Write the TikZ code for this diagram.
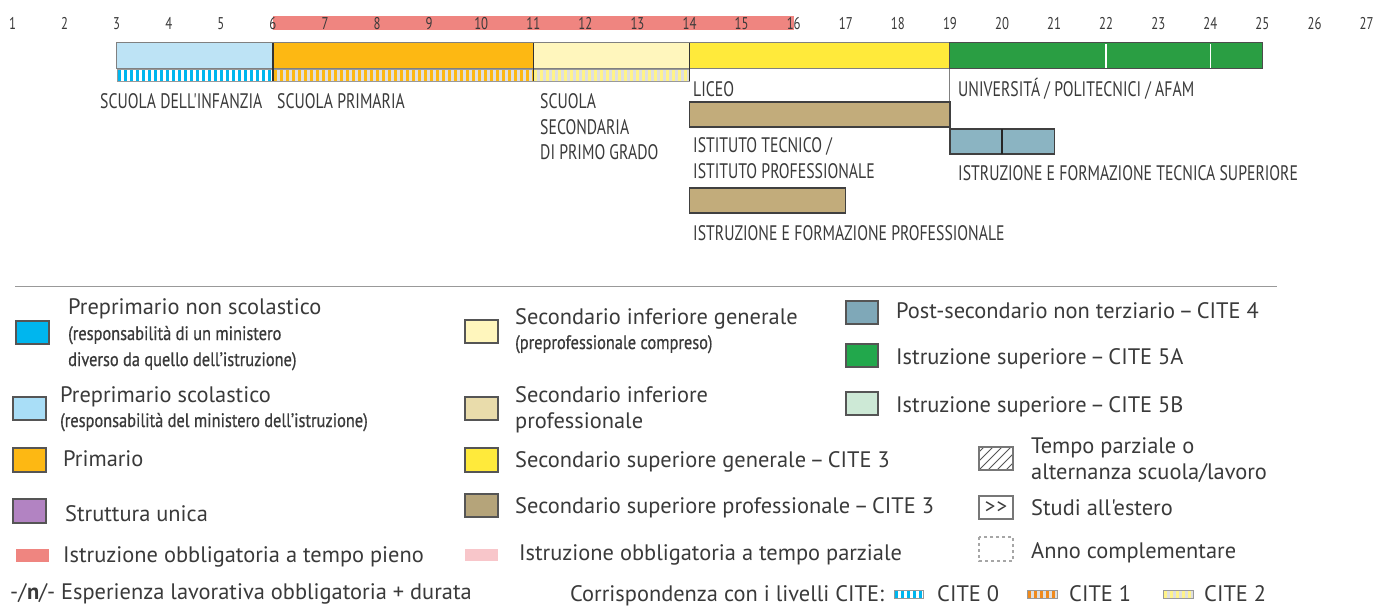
\documentclass[tikz,border=0pt]{standalone}
\usepackage{fontspec}
\setmainfont{PT Sans}
\newfontfamily\legf{PT Sans}
\newfontfamily\capf[FakeStretch=0.75]{PT Sans}
\newfontfamily\smf[FakeStretch=0.84,FakeBold=0.6]{PT Sans}
\definecolor{txt}{HTML}{3A3A3A}
\definecolor{cyanc}{HTML}{00B6EE}
\definecolor{lblue}{HTML}{BDE3F5}
\definecolor{lbluel}{HTML}{A9DEF7}
\definecolor{orng}{HTML}{FDB813}
\definecolor{pyel}{HTML}{FFF6BD}
\definecolor{yel}{HTML}{FFEA3B}
\definecolor{grn}{HTML}{2A9E43}
\definecolor{grnl}{HTML}{22A84C}
\definecolor{tanc}{HTML}{C2AC7B}
\definecolor{tanl}{HTML}{B5A47A}
\definecolor{tealc}{HTML}{8BB4C2}
\definecolor{teall}{HTML}{7FA8B8}
\definecolor{lgrn}{HTML}{CDE9D6}
\definecolor{purp}{HTML}{B283C2}
\definecolor{redc}{HTML}{EF8580}
\definecolor{pinkc}{HTML}{F8C6CA}
\definecolor{beige}{HTML}{E9DCAB}
\definecolor{swb}{HTML}{555555}
\definecolor{orst}{HTML}{F08A1C}
\newcommand\yr[1]{{12.5+(#1-1)*52.08}}
\newcommand\dsh{\hspace{3.5pt}–\hspace{3.5pt}}
\newcommand\citestrip[6]{%
  \begin{scope}
    \clip (#1,#3) rectangle (#2,#4);
    \fill[#6] (#1,#3) rectangle (#2,#4);
    \foreach \k in {0,...,45} \fill[#5] ({#1+1+\k*6},#3) rectangle ({#1+4+\k*6},#4);
  \end{scope}
  \draw[gray!80, line width=0.8pt] (#1,#3) rectangle (#2,#4);}
\tikzset{
  leg/.style={anchor=base west, inner sep=0pt, text=txt, font=\legf\fontsize{22.4}{26}\selectfont},
  legs/.style={anchor=base west, inner sep=0pt, text=txt, font=\smf\fontsize{19.5}{22}\selectfont},
  caplbl/.style={anchor=base west, inner sep=0pt, text=txt, font=\capf\fontsize{21}{24}\selectfont},
  numlbl/.style={anchor=base, inner sep=0pt, text=txt, font=\capf\fontsize{17}{20}\selectfont},
  swatch/.style={draw=swb, line width=1.3pt},
}
\begin{document}
\begin{tikzpicture}[x=1pt,y=-1pt]
\useasboundingbox[fill=white] (0,0) rectangle (1389,610);
% compulsory full-time bar
\fill[redc] ({\yr{6}},16) rectangle ({\yr{16}},30);
% age numbers
\foreach \n in {1,...,27} \node[numlbl] (age\n) at ({\yr{\n}},30) {\n};
% first row of bars
\fill[lblue] ({\yr{3}},43) rectangle ({\yr{6}},69);
\fill[orng] ({\yr{6}},43) rectangle ({\yr{11}},69);
\fill[pyel] ({\yr{11}},43) rectangle ({\yr{14}},69);
\fill[yel] ({\yr{14}},43) rectangle ({\yr{19}},69);
\draw[gray, line width=1pt] ({\yr{3}},43) rectangle ({\yr{19}},69);
\citestrip{117}{273}{69}{81}{cyanc}{white}
\citestrip{273}{533.3}{69}{81}{orng}{gray!25}
\citestrip{533.3}{689.5}{69}{81}{yel!60}{gray!25}
\draw[black!80, line width=1.2pt] ({\yr{6}},43) -- ({\yr{6}},81);
\draw[black!80, line width=1.2pt] ({\yr{11}},43) -- ({\yr{11}},81);
\draw[black!80, line width=1.2pt] ({\yr{14}},43) -- ({\yr{14}},81);
\fill[grn] ({\yr{19}},43) rectangle ({\yr{25}},69);
\draw[black!70, line width=1pt] ({\yr{19}},43) rectangle ({\yr{25}},69);
\draw[white, line width=1.5pt] ({\yr{22}},44) -- ({\yr{22}},68);
\draw[white, line width=1.5pt] ({\yr{24}},44) -- ({\yr{24}},68);
\draw[gray, line width=1pt] ({\yr{19}},69) -- ({\yr{19}},102);
% second rows
\fill[tanc] ({\yr{14}},102) rectangle ({\yr{19}},127);
\draw[black!75, line width=1.2pt] ({\yr{14}},102) rectangle ({\yr{19}},127);
\fill[tealc] ({\yr{19}},129) rectangle ({\yr{21}},154);
\draw[black!75, line width=1.2pt] ({\yr{19}},129) rectangle ({\yr{21}},154);
\draw[black!85, line width=1.2pt] ({\yr{20}},129) -- ({\yr{20}},154);
\fill[tanc] ({\yr{14}},188) rectangle ({\yr{17}},213);
\draw[black!75, line width=1.2pt] ({\yr{14}},188) rectangle ({\yr{17}},213);
% bar labels
\node[caplbl] (infanzia) at (100,108) {SCUOLA DELL'INFANZIA};
\node[caplbl] (primaria) at (277,108) {SCUOLA PRIMARIA};
\node[caplbl] (sec1a) at (540,108) {SCUOLA};
\node[caplbl] (sec1b) at (540,134) {SECONDARIA};
\node[caplbl] (sec1c) at (540,159) {DI PRIMO GRADO};
\node[caplbl] (liceo) at (693,96) {LICEO};
\node[caplbl] (univ) at (958,96) {UNIVERSITÁ / POLITECNICI / AFAM};
\node[caplbl] (ita) at (693,152) {ISTITUTO TECNICO /};
\node[caplbl] (itb) at (693,178) {ISTITUTO PROFESSIONALE};
\node[caplbl] (ifts) at (958,180) {ISTRUZIONE E FORMAZIONE TECNICA SUPERIORE};
\node[caplbl] (iefp) at (693,240) {ISTRUZIONE E FORMAZIONE PROFESSIONALE};
% separator
\draw[gray!80, line width=1pt] (15,286) -- (1277,286);
% legend column 1
\fill[cyanc,swatch] (16,321) rectangle (49,344);
\node[leg] (l1a) at (68,314) {Preprimario non scolastico};
\node[legs] (l1b) at (68,340) {(responsabilità di un ministero};
\node[legs] (l1c) at (68,366) {diverso da quello dell’istruzione)};
\fill[lbluel,swatch] (13,397) rectangle (46,420);
\node[leg] (l2a) at (60,402) {Preprimario scolastico};
\node[legs] (l2b) at (60,427) {(responsabilità del ministero dell’istruzione)};
\fill[orng,swatch] (13,448) rectangle (46,472);
\node[leg] (l3) at (63,466) {Primario};
\fill[purp,swatch] (13,499) rectangle (46,523);
\node[leg] (l4) at (65,521) {Struttura unica};
\fill[redc] (16,549) rectangle (49,562);
\node[leg] (l5) at (63,562) {Istruzione obbligatoria a tempo pieno};
\node[leg] (l6) at (10,599) {-/\textbf{n}/- Esperienza lavorativa obbligatoria + durata};
% legend column 2
\fill[pyel,swatch] (465,320) rectangle (498,343);
\node[leg] (m1a) at (515,324) {Secondario inferiore generale};
\node[legs] (m1b) at (515,349) {(preprofessionale compreso)};
\fill[beige,swatch] (465,397) rectangle (498,420);
\node[leg] (m2a) at (515,402) {Secondario inferiore};
\node[leg] (m2b) at (515,428) {professionale};
\fill[yel,swatch] (465,448) rectangle (498,472);
\node[leg] (m3) at (515,467) {Secondario superiore generale\dsh CITE 3};
\fill[tanl,swatch] (465,494) rectangle (498,517);
\node[leg] (m4) at (515,513) {Secondario superiore professionale\dsh CITE 3};
\fill[pinkc] (465,549) rectangle (498,561);
\node[leg] (m5) at (519,560) {Istruzione obbligatoria a tempo parziale};
\node[leg] (m6) at (570,601) {Corrispondenza con i livelli CITE:};
% legend column 3
\fill[teall,swatch] (846,301) rectangle (878,324);
\node[leg] (r1) at (896,318) {Post-secondario non terziario\dsh CITE 4};
\fill[grnl,swatch] (846,344) rectangle (878,367);
\node[leg] (r2) at (896,364) {Istruzione superiore\dsh CITE 5A};
\fill[lgrn,swatch] (846,392) rectangle (878,415);
\node[leg] (r3) at (896,412) {Istruzione superiore\dsh CITE 5B};
\begin{scope}
  \clip (979,447) rectangle (1013,470);
  \foreach \k in {-2,...,4} \draw[swb, line width=0.9pt] ({979+\k*9},470) -- ++(25,-25);
\end{scope}
\draw[swb!80, line width=1.1pt] (979,447) rectangle (1013,470);
\node[leg] (r4a) at (1031,453) {Tempo parziale o};
\node[leg] (r4b) at (1031,479) {alternanza scuola/lavoro};
\draw[swb!80, line width=1.1pt] (979,496) rectangle (1013,519);
\node[inner sep=0pt, text=txt, font=\legf\fontsize{21}{24}\selectfont] (abroad) at (996,507.5) {>\kern1pt>};
\node[leg] (r5) at (1031,515) {Studi all'estero};
\draw[gray!70, line width=1.1pt, dashed] (979,537) rectangle (1013,561);
\node[leg] (r6) at (1031,558) {Anno complementare};
% CITE strips
\citestrip{894}{923}{590}{598}{cyanc}{white}
\node[leg] (c0) at (937,601) {CITE 0};
\citestrip{1027}{1057}{590}{598}{orst}{gray!25}
\node[leg] (c1) at (1069,601) {CITE 1};
\citestrip{1163}{1193}{590}{598}{yel!60}{gray!25}
\node[leg] (c2) at (1204,601) {CITE 2};
\end{tikzpicture}
\end{document}
